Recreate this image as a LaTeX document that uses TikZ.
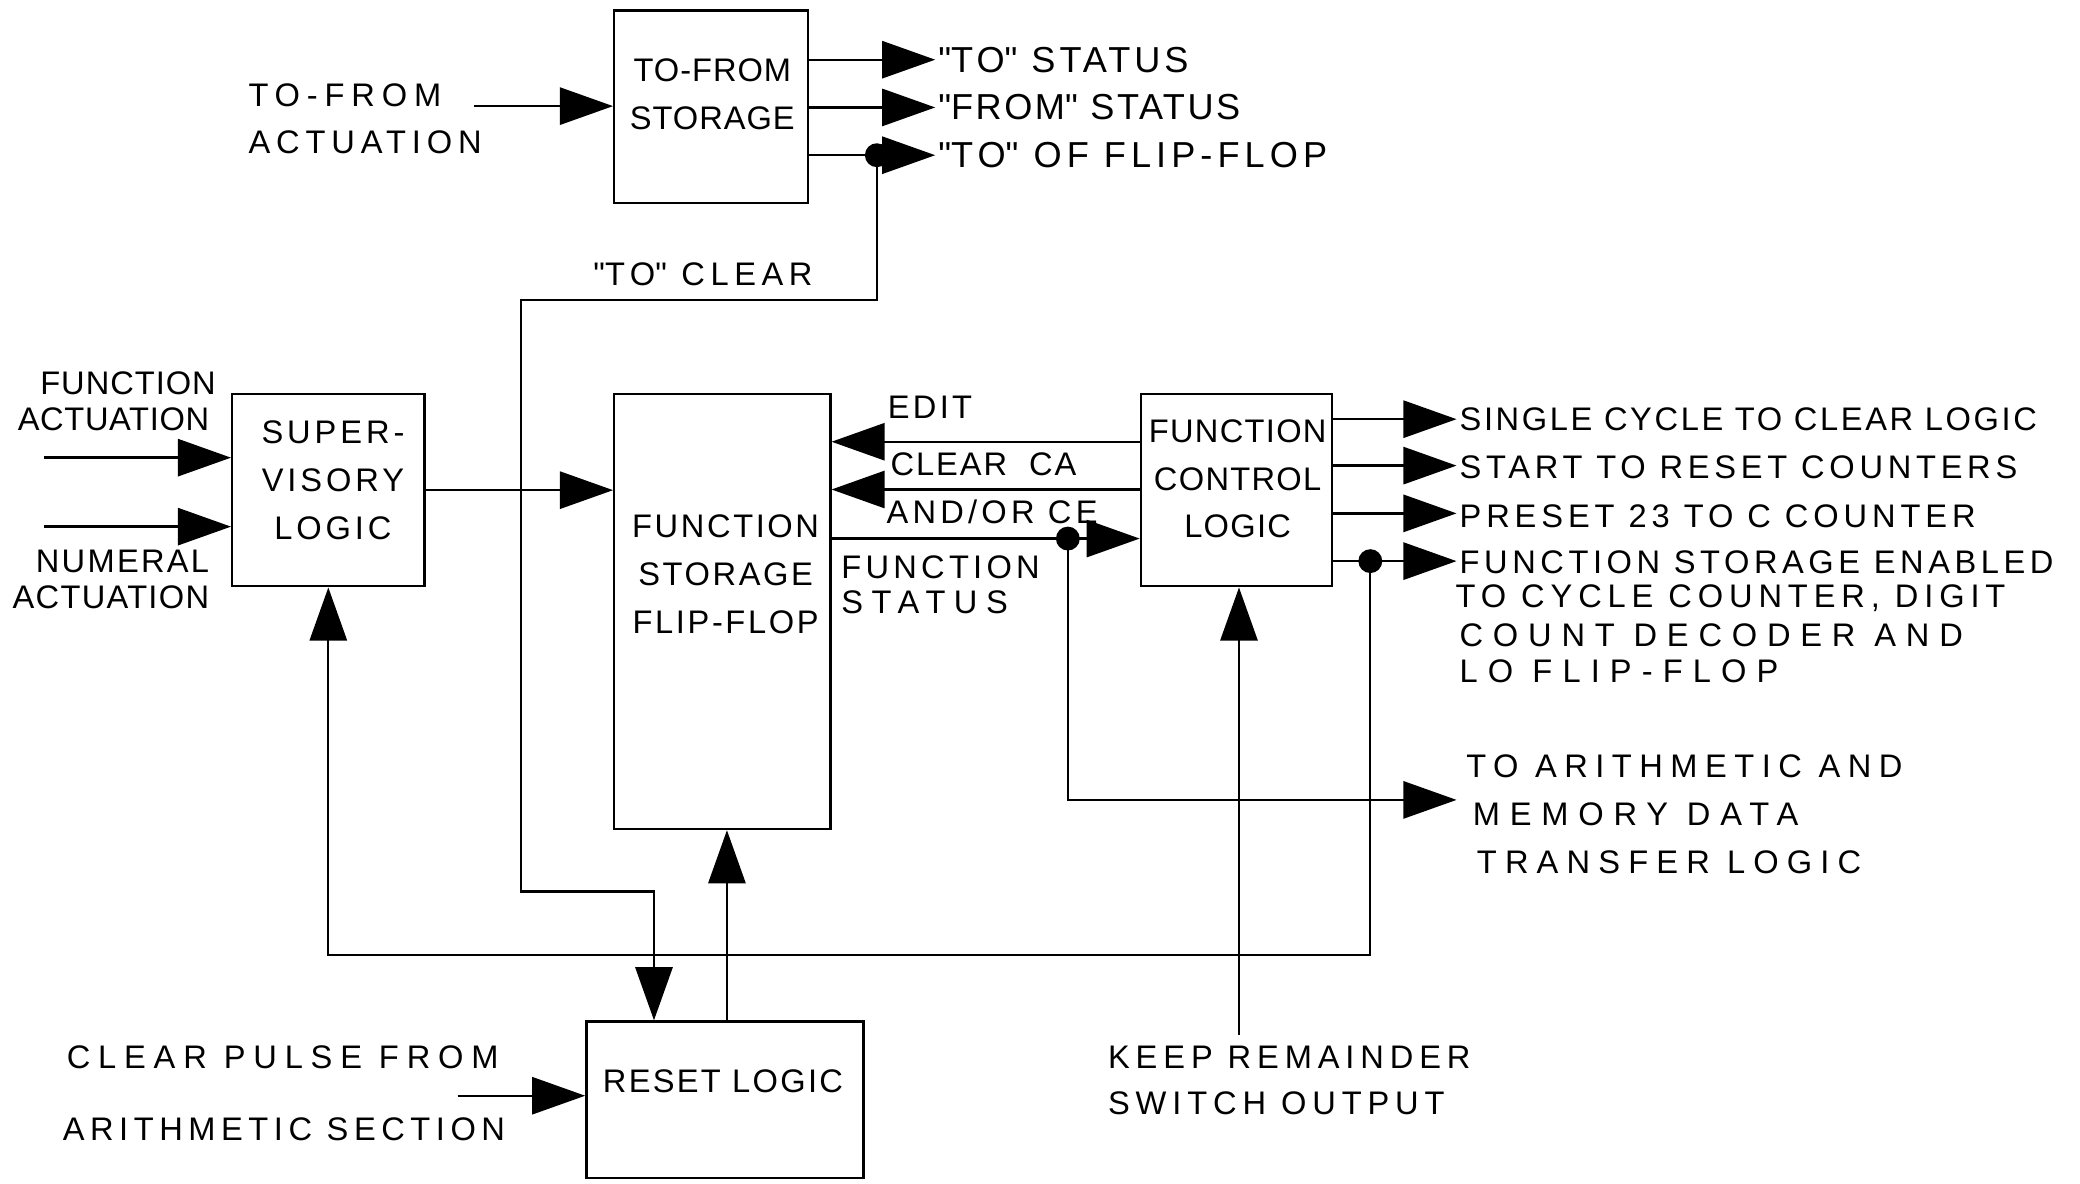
\documentclass[tikz,border=0pt]{standalone}
\usepackage{fontspec}
\setmainfont{Liberation Sans}
\usetikzlibrary{arrows.meta}
\newcommand\qd{\textquotedbl}
\begin{document}
\begin{tikzpicture}[x=0.02cm,y=-0.02cm,
  blk/.style={draw, line width=1pt, inner sep=0pt},
  wire/.style={line width=1pt},
  arr/.style={wire, -{Triangle[length=0.8cm,width=0.56cm]}},
  dotc/.style={circle, fill, inner sep=0pt, minimum size=0.36cm},
  txt/.style={inner sep=0pt, font=\fontsize{14}{20.5}\selectfont},
  lsp/.style={inner sep=0pt, font={\fontsize{14}{20.5}\selectfont\addfontfeature{LetterSpace=#1}}},
  lsb/.style={inner sep=0pt, font={\fontsize{15.5}{20.5}\selectfont\addfontfeature{LetterSpace=#1}}},
  lss/.style={inner sep=0pt, font={\fontsize{14}{15.4}\selectfont\addfontfeature{LetterSpace=#1}}}]
\fill[white] (0,0) rectangle (1568,892);
\useasboundingbox (0,0) rectangle (1568,892);
% blocks
\node[blk, minimum width=2.92cm, minimum height=2.9cm] (tfs) at (536,80.5) {};
\node[blk, minimum width=2.9cm, minimum height=2.9cm] (sup) at (247.5,369.5) {};
\node[blk, minimum width=3.26cm, minimum height=6.56cm] (fsf) at (544.5,461) {};
\node[blk, minimum width=2.88cm, minimum height=2.9cm] (fcl) at (932,369.5) {};
\node[blk, minimum width=4.18cm, minimum height=2.36cm] (rst) at (546.5,829) {};
% block texts
\node[lsp=3, align=center] (tfst) at (537,71) {TO-FROM\\STORAGE};
\node[lsp=12, align=center] (supt) at (251,362) {SUPER-\\VISORY\\LOGIC};
\node[lsp=8, align=center] (fsft) at (547,433) {FUNCTION\\STORAGE\\FLIP-FLOP};
\node[lsp=4, align=center] (fclt) at (933,361) {FUNCTION\\CONTROL\\LOGIC};
\node[lsp=7] (rstt) at (545,815) {RESET LOGIC};
% dots
\node[dotc] (d1) at (661,117) {};
\node[dotc] (d2) at (805,406) {};
\node[dotc] (d3) at (1033,423) {};
% coordinates
\coordinate (i0) at (357,80);
\coordinate (o1) at (705,45);
\coordinate (o2) at (705,81);
\coordinate (o3) at (705,117);
\coordinate (c1) at (393,226);
\coordinate (c2) at (393,672);
\coordinate (c3) at (493,672);
\coordinate (i1) at (33,345);
\coordinate (i2) at (33,397);
\coordinate (e1) at (0,333);
\coordinate (e2) at (0,369);
\coordinate (c4) at (1098,603);
\coordinate (p1) at (1098,316);
\coordinate (p2) at (1098,351);
\coordinate (p3) at (1098,387);
\coordinate (p4) at (1098,423);
\coordinate (c5) at (1033,720);
\coordinate (k1) at (934,780);
\coordinate (i3) at (345,826);
\coordinate (r1) at (548,0);
% connectors
\draw[arr] (i0) -- (tfs.west |- i0);
\draw[arr] (tfs.east |- o1) -- (o1);
\draw[arr] (tfs.east |- o2) -- (o2);
\draw[arr] (tfs.east |- o3) -- (o3);
\draw[arr] (d1.center) |- (c1) -- (c2) -- (c3) -- (c3 |- rst.north);
\draw[arr] (i1) -- (sup.west |- i1);
\draw[arr] (i2) -- (sup.west |- i2);
\draw[arr] (sup.east) -- (fsf.west |- sup.east);
\draw[arr] (fcl.west |- e1) -- (fsf.east |- e1);
\draw[arr] (fcl.west |- e2) -- (fsf.east |- e2);
\draw[arr] (fsf.east |- d2) -- (fcl.west |- d2);
\draw[arr] (d2.center) |- (c4);
\draw[arr] (fcl.east |- p1) -- (p1);
\draw[arr] (fcl.east |- p2) -- (p2);
\draw[arr] (fcl.east |- p3) -- (p3);
\draw[arr] (fcl.east |- p4) -- (p4);
\draw[arr] (d3.center) -- (c5) -| (sup.south);
\draw[arr] (k1) -- (k1 |- fcl.south);
\draw[arr] (i3) -- (rst.west |- i3);
\draw[arr] (rst.north -| r1) -- (fsf.south -| r1);
% labels
\node[lsp=21, anchor=west] (l1a) at (187,72) {TO-FROM};
\node[lsp=18, anchor=west] (l1b) at (187,107) {ACTUATION};
\node[lsb=11, anchor=west] (l2) at (707,45) {\qd TO\qd\ STATUS};
\node[lsb=7, anchor=west] (l3) at (707,81) {\qd FROM\qd\ STATUS};
\node[lsb=14, anchor=west] (l4) at (707,117) {\qd TO\qd\ OF FLIP-FLOP};
\node[lsp=17, anchor=west] (l5) at (447,207) {\qd TO\qd\ CLEAR};
\node[lsp=3, anchor=east] (l6a) at (163,289) {FUNCTION};
\node[lsp=2, anchor=east] (l6b) at (158,316) {ACTUATION};
\node[lsp=7, anchor=east] (l7a) at (158,423) {NUMERAL};
\node[lsp=4, anchor=east] (l7b) at (158,450) {ACTUATION};
\node[lsp=10, anchor=west] (l8) at (669,307) {EDIT};
\node[lsp=6, anchor=west] (l9) at (671,350) {CLEAR\ \ CA};
\node[lsp=13, anchor=west] (l10) at (668,386) {AND/OR CE};
\node[lss=13, anchor=west] (l11a) at (634,428) {FUNCTION};
\node[lss=26, anchor=west] (l11b) at (634,454) {STATUS};
\node[lsp=8, anchor=west] (l12) at (1100,316) {SINGLE CYCLE TO CLEAR LOGIC};
\node[lsp=14.5, anchor=west] (l13) at (1100,352) {START TO RESET COUNTERS};
\node[lsp=15, anchor=west] (l14) at (1100,389) {PRESET 23 TO C COUNTER};
\node[lss=14, anchor=west] (l15a) at (1100,424) {FUNCTION STORAGE ENABLED};
\node[lss=18, anchor=west] (l15b) at (1097,451) {TO CYCLE COUNTER, DIGIT};
\node[lss=30, anchor=west] (l15c) at (1100,479) {COUNT DECODER AND};
\node[lss=31, anchor=west] (l15d) at (1100,506) {LO FLIP-FLOP};
\node[lsp=23, anchor=west] (l16a) at (1105,578) {TO ARITHMETIC AND};
\node[lsp=30, anchor=west] (l16b) at (1110,614) {MEMORY DATA};
\node[lsp=25, anchor=west] (l16c) at (1113,650) {TRANSFER LOGIC};
\node[lsp=24, anchor=west] (l17) at (50,797) {CLEAR PULSE FROM};
\node[lsp=17, anchor=west] (l18) at (47,851) {ARITHMETIC SECTION};
\node[lsp=18, anchor=west] (l19a) at (835,797) {KEEP REMAINDER};
\node[lsp=18, anchor=west] (l19b) at (835,832) {SWITCH OUTPUT};
\end{tikzpicture}
\end{document}
